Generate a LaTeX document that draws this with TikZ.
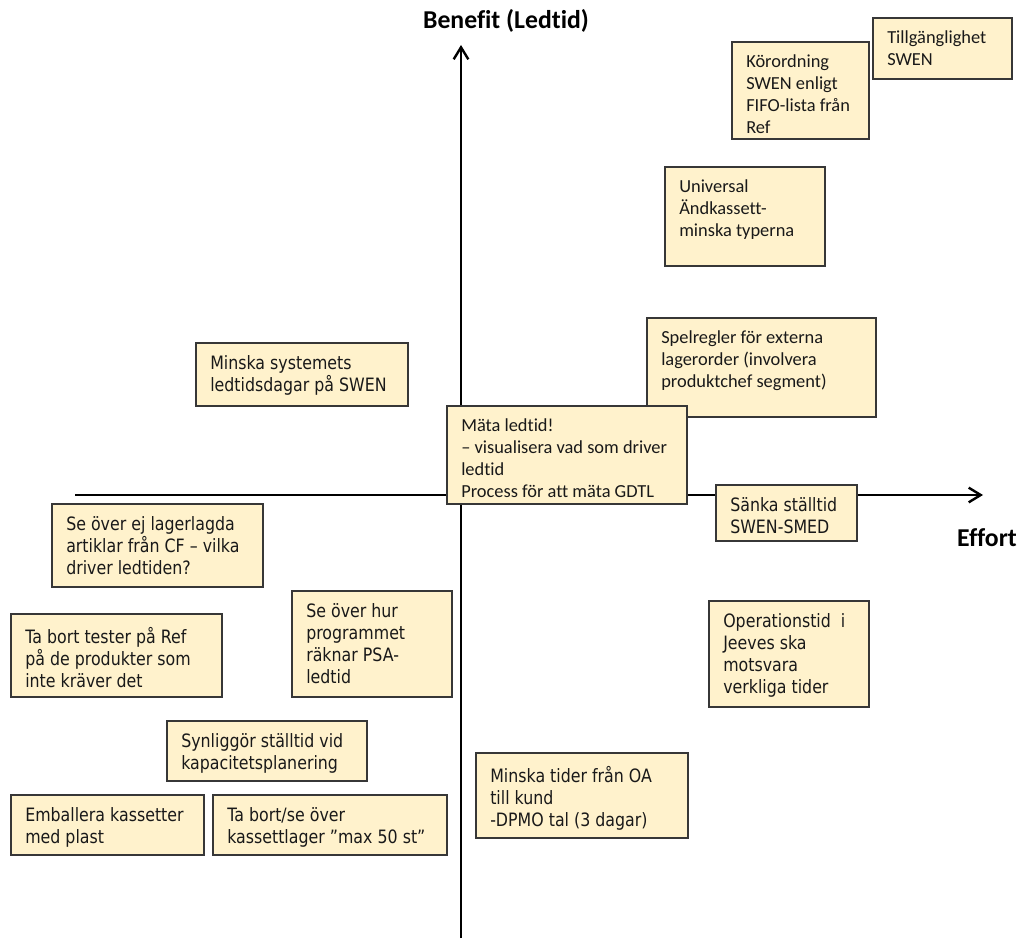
\documentclass[tikz,border=0pt]{standalone}
\usepackage{fontspec}
\setmainfont{DejaVu Sans}[FakeStretch=0.86]
\newfontfamily\calibrifont{Carlito}[Ligatures=NoCommon]
\usetikzlibrary{arrows.meta}
\usetikzlibrary{math}
\definecolor{notefill}{RGB}{255,242,204}
\definecolor{noteline}{RGB}{55,55,55}
\definecolor{noteink}{RGB}{25,25,25}

\tikzset{
 card/.style={draw=noteline, fill=notefill, line width=1.1pt},
 note/.style={anchor=north west, align=left, inner xsep=10.5pt, inner ysep=9.5pt,
  text=noteink, font=\fontsize{13.8}{16.5}\selectfont},
 notec/.style={note, font=\calibrifont\fontsize{13.8}{16.5}\selectfont},
 axis/.style={line width=1.8pt, -{Straight Barb[length=9pt,width=11pt]}},
 axislabel/.style={anchor=base, inner sep=0pt, font=\calibrifont\bfseries\fontsize{19.3}{23}\selectfont}
}

% corners are given in pixels, x to the right and y downwards
\newcommand{\notecard}[7][note]{%
 \draw[card] (#3,#4) rectangle (#5,#6);
 \node[#1] (#2) at (#3,#4) {#7};
}

\begin{document}
\begin{tikzpicture}[x=0.75pt, y=-0.75pt]

\tikzmath{
\ox = 461;% benefit axis
\oy = 495;% effort axis
}

\useasboundingbox (0,0) rectangle (1023,938);

%axes:
\coordinate (ybot) at (\ox,938);
\coordinate (ytop) at (\ox,45);
\coordinate (xleft) at (75,\oy);
\coordinate (xright) at (983,\oy);
\draw[axis] (ybot) -- (ytop);
\draw[axis] (xleft) -- (xright);
\node[axislabel] (benefit) at (506,29) {Benefit (Ledtid)};
\node[axislabel] (effort) at (987,546) {Effort};

%top right
\notecard[notec]{tillg}{873}{18}{1012}{79}{Tillgänglighet\\SWEN}
\notecard[notec]{korord}{732}{42}{869}{139}{Körordning\\SWEN enligt\\FIFO-lista från\\Ref}
\notecard[notec]{univ}{665}{167}{825}{266}{Universal\\Ändkassett-\\minska typerna}
\notecard[notec]{spel}{647}{318}{876}{417}{Spelregler för externa\\lagerorder (involvera\\produktchef segment)}

%top left
\notecard{minsys}{196}{343}{408}{406}{Minska systemets\\ledtidsdagar på SWEN}

%on the axes
\notecard[notec]{mata}{447}{406}{687}{504}{Mäta ledtid!\\– visualisera vad som driver\\ledtid\\Process för att mäta GDTL}
\notecard{sanka}{716}{485}{857}{541}{Sänka ställtid\\SWEN-SMED}

%bottom left
\notecard{ejlager}{52}{504}{263}{587}{Se över ej lagerlagda\\artiklar från CF – vilka\\driver ledtiden?}
\notecard{tester}{11}{614}{222}{697}{Ta bort tester på Ref\\på de produkter som\\inte kräver det}
\notecard{psa}{292}{591}{452}{697}{Se över hur\\programmet\\räknar PSA-\\ledtid}
\notecard{synlig}{167}{721}{367}{781}{Synliggör ställtid vid\\kapacitetsplanering}
\notecard{emball}{11}{795}{204}{855}{Emballera kassetter\\med plast}
\notecard{kassett}{213}{795}{447}{855}{Ta bort/se över\\kassettlager ”max 50 st”}

%bottom right
\notecard{oper}{709}{601}{869}{707}{Operationstid\ \ i\\Jeeves ska\\motsvara\\verkliga tider}
\notecard{oa}{476}{753}{688}{838}{Minska tider från OA\\till kund\\-DPMO tal (3 dagar)}

\end{tikzpicture}
\end{document}
